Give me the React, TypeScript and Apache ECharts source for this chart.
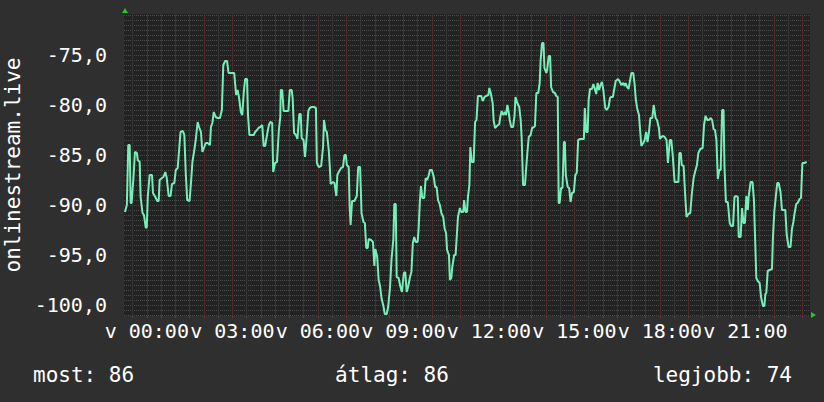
import React, { useEffect, useRef } from "react";
import * as echarts from "echarts";

// time of each sample, in minutes from 00:00 (negative = the evening before)
const sampleMinutes = [
  -46, -42, -39, -36, -34, -32, -28, -25, -21, -19, -15, -13, -9, -6, -2, 0, 2, 6, 11, 13, 18, 22, 25, 27, 32, 35, 39, 42, 46, 50,
  53, 58, 61, 65, 68, 71, 76, 79, 82, 85, 90, 93, 96, 100, 103, 107, 110, 114, 117, 121, 124, 128, 133, 135, 138, 141, 145, 149, 154, 158,
  161, 165, 169, 172, 176, 181, 184, 188, 191, 194, 198, 201, 204, 207, 211, 213, 216, 221, 225, 228, 232, 235, 239,
  243, 246, 249, 253, 257, 260, 264, 266, 270, 274, 278, 281, 282, 285, 288, 293, 298, 301, 305, 307, 310, 314, 317, 321, 324, 326,
  330, 333, 336, 340, 343, 347, 352, 356, 358, 362, 367, 371, 373, 376, 379, 383, 385, 387, 392, 395, 399, 401, 404, 409, 413, 416,
  419, 421, 425, 427, 429, 432, 437, 442, 445, 449, 452, 456, 459, 462, 465, 467, 472, 476, 479, 481, 485, 488, 491, 494, 498, 501,
  505, 508, 512, 515, 519, 521, 524, 526,
  530, 534, 537, 541, 544, 547, 550, 554, 557, 560, 563, 566, 570, 572, 575, 577, 580, 584, 587, 590, 593, 596, 600, 604, 607, 610,
  613, 617, 620, 624, 627, 630, 632, 636, 638, 641, 643, 647, 650, 652, 655, 659, 662, 666, 668, 671, 674, 676, 679, 681, 684, 688,
  691, 694, 697, 701, 704, 707, 711, 714, 719, 721, 724, 728, 730, 733, 737, 742, 744, 747, 750, 754, 756, 759, 761, 764, 767, 771,
  774, 776, 780, 784, 787, 789, 792, 796, 798, 801, 804, 808, 811, 815,
  817, 820, 824, 827, 829, 832, 835, 837, 841, 843, 846, 849, 851, 855, 859, 862, 865, 867, 869, 872, 875, 878, 880, 882, 886, 889,
  892, 895, 899, 902, 905, 908, 912, 916, 920, 922, 925, 928, 930, 933, 937, 940, 942, 946, 949, 952, 955, 958, 961, 965, 968, 972,
  975, 977, 981, 984, 987, 992, 996, 999, 1003, 1006, 1008, 1011, 1014, 1017, 1020, 1024, 1027, 1029, 1032, 1036, 1038, 1041, 1045, 1048,
  1051, 1054, 1057, 1060, 1064, 1067, 1071, 1074, 1078, 1080, 1083, 1087, 1090, 1094, 1097,
  1101, 1104, 1107, 1111, 1115, 1119, 1121, 1124, 1126, 1130, 1133, 1136, 1140, 1144, 1147, 1151, 1154, 1158, 1161, 1165, 1170, 1173,
  1176, 1180, 1183, 1187, 1190, 1193, 1196, 1199, 1202, 1205, 1208, 1211, 1214, 1216, 1219, 1223, 1227, 1230, 1234, 1237, 1241, 1244,
  1246, 1250, 1253, 1256, 1259, 1262, 1265, 1267, 1271, 1275, 1278, 1281, 1283, 1286, 1290, 1293, 1297, 1300, 1302, 1304, 1307, 1311,
  1316, 1318, 1321, 1324, 1327, 1330, 1334, 1337, 1340, 1344, 1347, 1351, 1355, 1358, 1361, 1363, 1367, 1370, 1374, 1377, 1380, 1384, 1389,
];

// signal level (dBm) at each sample
const signalDbm = [
  -90.7, -90.0, -84.0, -84.0, -89.8, -89.8, -87.2, -84.7, -84.8, -85.5, -85.7, -89.2, -90.8, -91.0, -92.3, -92.2, -89.2, -87.0, -87.0, -88.8,
  -89.2, -89.6, -89.6, -87.5, -87.3, -87.2, -86.7, -87.3, -89.1, -89.1,
  -87.9, -87.8, -86.5, -86.3, -84.5, -82.7, -82.6, -83.0, -86.8, -89.5, -89.6, -87.8, -85.7, -84.5, -83.5, -81.7, -82.2, -82.7, -84.7, -84.2,
  -83.8, -83.8, -84.0, -82.2, -81.8, -80.7, -81.2, -81.3, -81.3, -80.5,
  -76.0, -75.6, -75.6, -76.8, -76.8, -76.8, -76.8, -79.0, -78.5, -79.2, -80.7, -81.0, -78.8, -77.4, -77.4, -81.0, -83.0, -83.0, -83.0, -82.7,
  -82.5, -82.3, -82.2,
  -82.0, -84.1, -84.1, -83.0, -82.0, -81.7, -81.8, -86.7, -85.8, -85.7, -82.5, -81.2, -78.5, -78.5, -80.6, -80.6, -80.6, -78.5, -78.5, -79.3,
  -82.8, -83.0, -83.4, -80.9, -80.9, -83.3,
  -83.5, -85.2, -83.5, -80.6, -80.3, -80.2, -80.2, -80.3, -85.8, -86.2, -86.1, -84.2, -81.5, -82.5, -82.7, -84.5, -86.0, -87.9, -87.7, -87.8,
  -89.1, -87.0, -86.7, -86.3, -86.2, -85.0,
  -85.0, -86.0, -86.2, -90.2, -92.0, -89.6, -89.6, -89.1, -86.2, -86.2, -90.8, -91.7, -91.8, -94.3, -94.3, -93.4, -93.5, -93.7, -96.1, -94.4,
  -95.2, -97.5, -98.1, -99.3, -100.1, -100.9,
  -100.9, -100.2, -98.2, -95.5, -93.4, -89.9, -89.9, -97.2,
  -97.3, -98.2, -98.7, -96.8, -96.7, -98.7, -98.2, -97.2, -96.7, -93.8, -93.2, -93.7, -93.7, -92.5, -89.5, -88.1, -89.3, -89.3, -87.3, -87.5,
  -87.1, -86.5, -86.5, -87.2, -88.2, -88.2,
  -89.5, -90.0, -90.8, -91.2, -92.4, -92.8, -94.5, -95.0, -97.5, -97.3, -96.2, -95.0, -95.0, -93.5, -91.2, -90.3, -90.7, -90.7, -89.5, -90.7,
  -90.7, -89.2, -88.0, -84.2, -85.7, -85.7,
  -81.7, -81.5, -79.1, -79.1, -79.1, -79.6, -79.2, -79.1, -79.0, -78.3, -78.8, -79.8, -81.5, -82.3, -82.1, -81.9, -81.2, -80.6, -81.0, -80.7,
  -81.0, -80.0, -80.5, -81.5, -82.2, -82.2,
  -81.1, -79.2, -79.8, -80.2, -81.5, -83.2, -88.0, -88.0, -86.7, -84.8, -83.2, -83.0, -82.3, -82.2,
  -82.1, -78.8, -78.8, -77.8, -75.5, -73.8, -73.8, -76.3, -76.8, -76.4, -75.1, -75.1, -78.2, -78.7, -78.8, -79.1, -79.2, -89.8, -89.8, -88.3,
  -88.3, -83.7, -83.7, -87.0, -88.2, -88.3,
  -89.7, -88.8, -88.7, -87.0, -86.8, -83.5, -83.4, -83.4, -83.4, -80.3, -82.7, -82.7, -79.5, -78.4, -78.4, -77.9, -78.2, -78.9, -77.8, -78.5,
  -78.0, -77.7, -78.5, -80.3, -80.5, -80.2,
  -79.3, -79.2, -79.2, -78.4, -77.6, -77.4, -77.7, -78.0, -77.8, -78.1, -77.8, -78.2, -78.4, -77.6, -76.8, -76.8, -78.0, -79.3, -80.3, -81.0,
  -82.3, -84.1, -83.8, -83.5,
  -82.7, -83.7, -82.7, -81.3, -81.3, -80.0, -81.3, -81.5, -82.3, -83.4, -83.2, -83.1, -83.2, -83.5, -85.8,
  -83.5, -83.5, -85.0, -87.7, -87.7, -87.7, -84.8, -84.8, -86.0, -86.1, -88.8, -91.2, -90.9, -90.8, -89.0, -87.3, -86.7, -86.0, -84.8, -84.4,
  -84.3, -82.0,
  -81.1, -81.5, -81.5, -81.3, -81.5, -82.4, -82.5, -83.5, -87.4, -86.5, -86.5, -80.5, -80.5, -86.2, -89.7, -89.7, -91.8, -92.1, -92.1, -89.2,
  -89.1, -89.2,
  -93.2, -93.2, -90.3, -91.8, -91.8, -89.1, -90.5, -89.1, -87.7, -87.7, -89.5, -94.2, -97.3, -97.6, -97.8, -99.2, -100.1, -100.1, -98.9, -98.8,
  -96.6, -96.5,
  -96.4, -93.2, -90.6, -89.2, -87.8, -87.8, -88.7, -90.5, -90.5, -90.5, -93.0, -94.2, -94.2, -92.4, -91.7, -91.0, -89.9, -89.8, -89.4, -89.3,
  -85.8, -85.8, -85.7,
];

const timeLabelMinutes = [0, 180, 360, 540, 720, 900, 1080, 1260];
const hourMinutes = [0, 60, 120, 180, 240, 300, 360, 420, 480, 540, 600, 660, 720, 780, 840, 900, 960, 1020, 1080, 1140, 1200, 1260, 1320, 1380];
const halfHourMinutes = [-30, 30, 90, 150, 210, 270, 330, 390, 450, 510, 570, 630, 690, 750, 810, 870, 930, 990, 1050, 1110, 1170, 1230, 1290, 1350];
const valueLabels = [-100, -95, -90, -85, -80, -75];
const minorValues = [
  -101, -100.5, -99.5, -99, -98.5, -98, -97.5, -97, -96.5, -96, -95.5, -94.5, -94, -93.5, -93, -92.5, -92, -91.5, -91, -90.5,
  -89.5, -89, -88.5, -88, -87.5, -87, -86.5, -86, -85.5, -84.5, -84, -83.5, -83, -82.5, -82, -81.5, -81, -80.5,
  -79.5, -79, -78.5, -78, -77.5, -77, -76.5, -76, -75.5, -74.5, -74, -73.5, -73, -72.5, -72, -71.5, -71,
];

const axisTitle = "onlinestream.live";
const statNow = "most: 86";
const statAvg = "átlag: 86";
const statBest = "legjobb: 74";

const FONT = "'DejaVu Sans Mono', monospace";
const X_MIN = -48;
const X_MAX = 1396;
const Y_MIN = -101.1;
const Y_MAX = -70.9;

export default function App() {
  const ref = useRef<HTMLDivElement>(null);

  useEffect(() => {
    document.body.style.margin = "0";
    document.body.style.background = "#2f2f2f";
    const chart = echarts.init(ref.current!, null, { renderer: "svg" });
    const red = "#7a3434";
    const redSoft = "#4e2c2c";
    const grey = "#4c4c4c";
    const greySoft = "#363636";
    chart.setOption({
      animation: false,
      backgroundColor: "#2f2f2f",
      grid: {
        left: 124,
        top: 14,
        width: 686,
        height: 302,
        show: true,
        backgroundColor: "#222222",
        borderWidth: 0,
      },
      xAxis: [
        {
          type: "value",
          min: X_MIN,
          max: X_MAX,
          axisLine: { show: false },
          axisTick: { show: true, customValues: hourMinutes, length: 2, lineStyle: { color: red } },
          axisLabel: {
            customValues: timeLabelMinutes,
            color: "#ffffff",
            fontFamily: FONT,
            fontSize: 20,
            margin: 5,
            formatter: (v: number) => "v " + String(Math.round(v / 60)).padStart(2, "0") + ":00",
          },
          splitLine: { show: true, lineStyle: { color: redSoft, type: "solid", width: 1 } },
        },
        {
          type: "value",
          min: X_MIN,
          max: X_MAX,
          position: "bottom",
          axisLine: { show: false },
          axisTick: { show: true, customValues: halfHourMinutes, length: 2, lineStyle: { color: grey } },
          axisLabel: { show: false },
          splitLine: { show: true, lineStyle: { color: greySoft, type: "solid", width: 1 } },
        },
      ],
      yAxis: [
        {
          type: "value",
          min: Y_MIN,
          max: Y_MAX,
          axisLine: { show: false },
          axisTick: { show: false, customValues: valueLabels },
          axisLabel: {
            customValues: valueLabels,
            color: "#ffffff",
            fontFamily: FONT,
            fontSize: 20,
            margin: 17,
            formatter: (v: number) => v.toFixed(1).replace(".", ","),
          },
          splitLine: { show: true, lineStyle: { color: red, type: [1, 1], width: 1 } },
        },
        {
          type: "value",
          min: Y_MIN,
          max: Y_MAX,
          position: "left",
          axisLine: { show: false },
          axisTick: { show: false, customValues: minorValues },
          axisLabel: { show: false },
          splitLine: { show: true, lineStyle: { color: grey, type: [1, 1], width: 1 } },
        },
      ],
      series: [
        {
          type: "line",
          xAxisIndex: 0,
          yAxisIndex: 0,
          data: sampleMinutes.map((m, i) => [m, signalDbm[i]]),
          showSymbol: false,
          symbol: "none",
          lineStyle: { color: "#76eeb8", width: 2 },
          z: 5,
        },
      ],
      graphic: [
        {
          type: "text",
          x: 13,
          y: 165,
          rotation: Math.PI / 2,
          style: { text: axisTitle, fill: "#ffffff", font: `21px ${FONT}`, align: "center", verticalAlign: "middle" },
        },
        { type: "text", x: 33, y: 375, style: { text: statNow, fill: "#ffffff", font: `21px ${FONT}`, align: "left", verticalAlign: "middle" } },
        { type: "text", x: 392, y: 375, style: { text: statAvg, fill: "#ffffff", font: `21px ${FONT}`, align: "center", verticalAlign: "middle" } },
        { type: "text", x: 792, y: 375, style: { text: statBest, fill: "#ffffff", font: `21px ${FONT}`, align: "right", verticalAlign: "middle" } },
        { type: "polygon", shape: { points: [[122, 13], [128, 13], [125, 8]] }, style: { fill: "#22cc22" } },
        { type: "polygon", shape: { points: [[811, 312], [811, 318], [816, 315]] }, style: { fill: "#22cc22" } },
      ],
    });
    return () => chart.dispose();
  }, []);

  return <div ref={ref} style={{ width: 824, height: 402 }} />;
}
